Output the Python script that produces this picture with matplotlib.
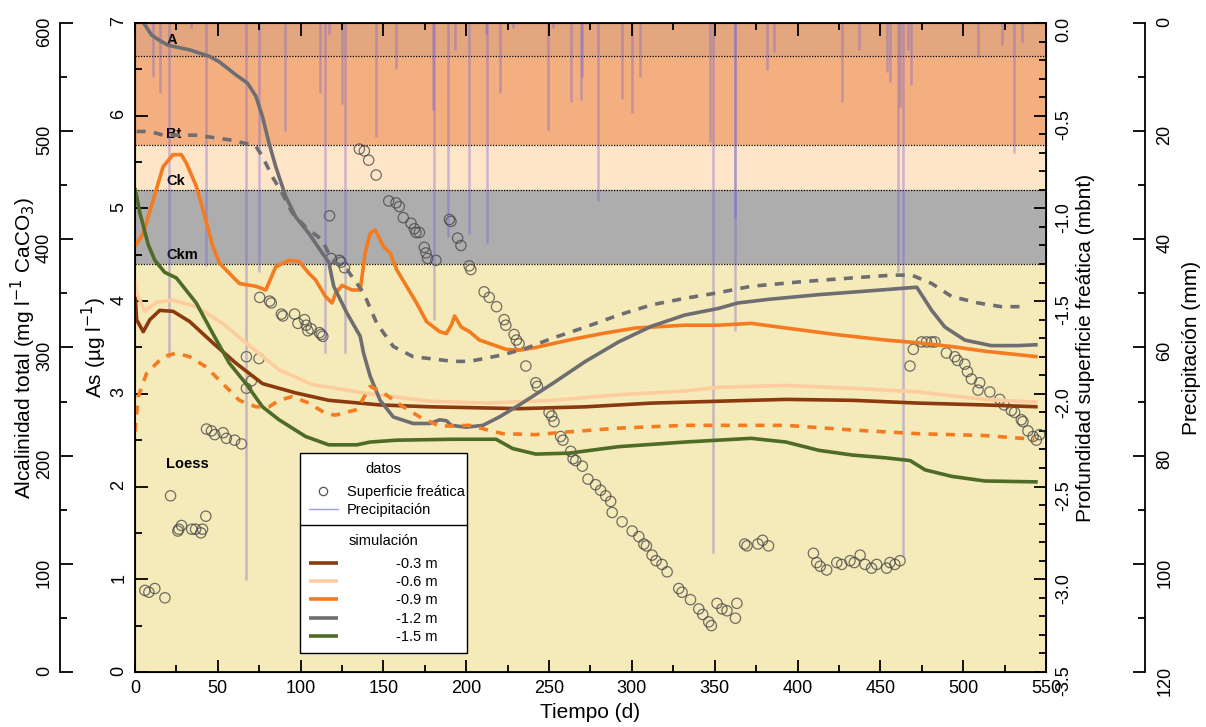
import matplotlib.pyplot as plt
from matplotlib.lines import Line2D
from matplotlib.ticker import MultipleLocator

plt.rcParams['font.family'] = ['Liberation Sans', 'DejaVu Sans']

# horizontes del suelo (profundidad en m)
layer_names = ['A', 'Bt', 'Ck', 'Ckm', 'Loess']
layer_top = [0.0, -0.18, -0.66, -0.90, -1.30]
layer_bot = [-0.18, -0.66, -0.90, -1.30, -3.5]
layer_label_depth = [-0.09, -0.60, -0.85, -1.25, -2.38]
layer_colors = ['#E3A67E', '#F3AF80', '#FEE5C8', '#ADADAD', '#F5EAB9']

# precipitacion (d, mm)
pr_day = [10.6, 15, 20.7, 34, 42.7, 67, 75, 90.4, 112, 114.5, 117, 124.8, 127,
          145.5, 157.6, 179.7, 180.5, 189, 193.4, 201.4, 211.8, 212.4, 220.5,
          228, 249.4, 252.4, 263.5, 269.5, 270.1, 279.5, 294, 300, 305, 347.4,
          349, 362, 362.5, 381.5, 386, 427, 437, 453.8, 455.8, 460.8, 461.8,
          463.8, 467, 468.5, 509, 523.7, 530.7, 535.5]
pr_mm = [10, 13, 62, 1, 45, 103, 46, 20, 13, 61, 2, 15, 61,
         21, 8.5, 16, 55, 39.5, 5, 39, 2, 40.7, 13,
         1, 19.8, 1, 14.6, 14.2, 10, 33, 14, 16.7, 10, 22,
         98, 36, 57, 8.7, 5.4, 14.6, 5, 9, 11, 46, 15.5,
         98.7, 5, 11.5, 6.3, 4, 24, 3.5]

# superficie freatica observada (d, m)
wt_day = [6.0, 8.4, 12.0, 18.1, 21.5, 25.9, 26.5, 28.1, 34.3, 36.6, 39.8, 40.8,
          42.8, 43.2, 46.2, 48.2, 53.2, 55.2, 60.2, 64.3, 67.3, 74.9, 70.3, 67.3,
          75.3, 81.3, 82.3, 88.4, 89.3, 96.4, 98.4, 102.4, 103.4, 106.4, 104.4,
          111.4, 112.5, 113.4, 117.5, 118.5, 123.5, 124.5, 126.5, 135.5, 138.5,
          141.1, 145.6, 153.2, 157.6, 159.6, 162.0, 166.7, 168.7, 169.7, 171.7,
          174.7, 175.7, 176.7, 181.7, 189.8, 190.8, 194.8, 196.8, 201.8, 202.8,
          210.8, 213.9, 218.3, 222.9, 223.9, 228.9, 230.3, 231.9, 236.0, 242.0,
          243.0, 250.0, 251.6, 253.0, 257.0, 258.4, 263.1, 264.5, 266.1, 270.1,
          273.5, 278.1, 281.1, 284.2, 287.2, 288.1, 294.1, 300.2, 304.2, 307.2,
          308.8, 312.2, 314.6, 318.2, 321.3, 328.3, 330.3, 335.4, 340.4, 342.8,
          346.4, 348.0, 351.4, 354.4, 357.4, 362.5, 363.4, 368.1, 369.5, 376.1,
          378.9, 382.5, 409.6, 411.6, 413.7, 417.6, 423.7, 426.7, 431.7, 434.3,
          437.8, 440.8, 444.7, 447.8, 453.8, 455.8, 458.8, 461.9, 467.9, 469.9,
          474.9, 477.9, 480.9, 482.9, 489.9, 495.0, 496.6, 501.0, 502.6, 505.0,
          509.0, 510.0, 516.1, 522.1, 524.7, 529.1, 531.1, 535.1, 536.1, 539.1,
          542.2, 544.2, 546.2]
wt_depth = [-3.06, -3.07, -3.05, -3.10, -2.55, -2.74, -2.73, -2.71, -2.73, -2.73, -2.75, -2.73,
            -2.66, -2.19, -2.20, -2.22, -2.21, -2.24, -2.25, -2.27, -1.80, -1.81, -1.93, -1.97,
            -1.48, -1.50, -1.51, -1.57, -1.58, -1.57, -1.62, -1.60, -1.63, -1.65, -1.66,
            -1.67, -1.68, -1.69, -1.04, -1.27, -1.28, -1.29, -1.32, -0.68, -0.69,
            -0.74, -0.82, -0.96, -0.97, -0.99, -1.05, -1.08, -1.11, -1.13, -1.13,
            -1.21, -1.24, -1.27, -1.28, -1.06, -1.07, -1.16, -1.20, -1.31, -1.33,
            -1.45, -1.48, -1.53, -1.60, -1.63, -1.68, -1.71, -1.73, -1.85, -1.94,
            -1.96, -2.10, -2.12, -2.15, -2.23, -2.25, -2.31, -2.35, -2.36, -2.39,
            -2.46, -2.49, -2.52, -2.55, -2.58, -2.64, -2.69, -2.74, -2.77, -2.81,
            -2.82, -2.87, -2.90, -2.92, -2.96, -3.05, -3.07, -3.11, -3.16, -3.19,
            -3.23, -3.25, -3.13, -3.16, -3.17, -3.21, -3.13, -2.81, -2.82, -2.81,
            -2.79, -2.82, -2.86, -2.91, -2.93, -2.95, -2.91, -2.92, -2.90, -2.91,
            -2.87, -2.92, -2.94, -2.92, -2.94, -2.91, -2.92, -2.90, -1.85, -1.76,
            -1.72, -1.72, -1.72, -1.72, -1.78, -1.80, -1.82, -1.84, -1.88, -1.92,
            -1.98, -1.94, -1.99, -2.03, -2.06, -2.09, -2.10, -2.14, -2.15, -2.20,
            -2.23, -2.25, -2.22]

# simulacion (As, ug/l)
t_03 = [0, 1, 5, 9, 15, 23, 33, 47, 61, 77, 97, 117, 148, 178, 232, 272, 312,
        352, 393, 433, 473, 513, 545]
as_03 = [4.12, 3.80, 3.67, 3.80, 3.90, 3.89, 3.78, 3.55, 3.33, 3.11, 3.01, 2.93,
         2.88, 2.86, 2.84, 2.86, 2.90, 2.92, 2.94, 2.93, 2.90, 2.88, 2.86]

t_06 = [0, 1, 6, 13, 23, 37, 53, 67, 87, 107, 138, 178, 212, 252, 292, 332, 352,
        393, 433, 473, 513, 545]
as_06 = [4.23, 4.09, 3.89, 3.99, 4.01, 3.94, 3.76, 3.55, 3.26, 3.10, 3.01, 2.92,
         2.90, 2.93, 2.99, 3.03, 3.07, 3.09, 3.06, 3.02, 2.94, 2.91]

t_09 = [0, 5, 11, 17, 23, 28, 31, 37, 41, 47, 51, 57, 63, 73, 79, 85, 93, 99,
        105, 109, 115, 119, 121, 125, 131, 136, 139, 142, 145, 150, 154, 158,
        164, 170, 176, 184, 188, 191, 193, 197, 202, 208, 216, 224, 232, 242,
        262, 282, 302, 332, 352, 372, 393, 423, 453, 473, 493, 513, 545]
as_09 = [4.59, 4.73, 5.09, 5.45, 5.58, 5.58, 5.49, 5.24, 4.99, 4.59, 4.41, 4.30,
         4.19, 4.16, 4.12, 4.37, 4.44, 4.43, 4.30, 4.23, 4.05, 3.98, 4.08, 4.17,
         4.12, 4.12, 4.52, 4.73, 4.77, 4.59, 4.52, 4.34, 4.16, 3.98, 3.78, 3.67,
         3.65, 3.74, 3.84, 3.72, 3.67, 3.58, 3.53, 3.48, 3.47, 3.50, 3.58, 3.65,
         3.71, 3.74, 3.74, 3.76, 3.71, 3.64, 3.58, 3.55, 3.51, 3.46, 3.40]

t_12 = [3, 6, 10, 15, 20, 33, 45, 51, 61, 68, 73, 77, 81, 85, 91, 97, 105, 113,
        117, 120, 128, 136, 138, 142, 148, 156, 168, 178, 184, 188, 191, 200,
        210, 220, 232, 252, 272, 292, 312, 332, 352, 364, 383, 413, 443, 472,
        481, 489, 501, 517, 533, 545]
as_12 = [7.05, 6.98, 6.87, 6.81, 6.76, 6.71, 6.64, 6.58, 6.44, 6.35, 6.21, 5.99,
         5.70, 5.45, 5.13, 4.91, 4.73, 4.52, 4.42, 4.16, 3.87, 3.62, 3.44, 3.19,
         2.93, 2.75, 2.68, 2.68, 2.72, 2.71, 2.66, 2.64, 2.66, 2.75, 2.88, 3.11,
         3.35, 3.56, 3.73, 3.85, 3.92, 3.98, 4.02, 4.07, 4.11, 4.15, 3.90, 3.72,
         3.58, 3.52, 3.52, 3.53]

t_15 = [0, 3, 8, 12, 18, 25, 37, 47, 57, 67, 77, 87, 103, 117, 134, 142, 158,
        192, 218, 228, 242, 262, 292, 332, 372, 393, 413, 433, 453, 468, 477,
        493, 513, 545]
as_15 = [5.22, 4.95, 4.61, 4.44, 4.31, 4.25, 3.98, 3.65, 3.33, 3.11, 2.86, 2.72,
         2.54, 2.45, 2.45, 2.48, 2.50, 2.51, 2.51, 2.41, 2.35, 2.36, 2.43, 2.48,
         2.52, 2.48, 2.39, 2.34, 2.31, 2.28, 2.18, 2.11, 2.06, 2.05]

# curvas punteadas
t_12d = [1, 9, 17, 37, 57, 67, 73, 77, 83, 89, 95, 103, 113, 119, 128, 138, 146,
         156, 168, 178, 192, 202, 222, 236, 252, 272, 292, 312, 332, 352, 372,
         403, 433, 457, 469, 481, 493, 509, 523, 539]
v_12d = [5.83, 5.83, 5.79, 5.79, 5.74, 5.70, 5.67, 5.56, 5.34, 5.16, 4.95, 4.80,
         4.66, 4.44, 4.34, 4.09, 3.76, 3.51, 3.40, 3.38, 3.35, 3.35, 3.42, 3.49,
         3.60, 3.72, 3.85, 3.96, 4.03, 4.09, 4.16, 4.21, 4.25, 4.28, 4.28, 4.19,
         4.05, 3.98, 3.94, 3.94]

t_09d = [0, 2, 7, 17, 25, 33, 43, 53, 63, 73, 81, 87, 95, 105, 115, 121, 134,
         142, 150, 162, 172, 184, 202, 222, 242, 262, 292, 332, 393, 433, 473,
         513, 543]
v_09d = [2.59, 2.97, 3.22, 3.40, 3.44, 3.40, 3.29, 3.11, 2.93, 2.86, 2.86, 2.93,
         2.97, 2.90, 2.79, 2.77, 2.83, 3.08, 3.01, 2.86, 2.75, 2.65, 2.66, 2.57,
         2.56, 2.59, 2.63, 2.66, 2.66, 2.61, 2.57, 2.55, 2.51]

sim_labels = ['-0.3 m', '-0.6 m', '-0.9 m', '-1.2 m', '-1.5 m']
sim_colors = ['#8B3A0F', '#FFCC9E', '#F47B20', '#6E6E72', '#4F6B28']

fig = plt.figure(figsize=(12.06, 7.27), dpi=100)
ax = fig.add_axes([0.1119, 0.0757, 0.7554, 0.8927])
ax_d = ax.twinx()
ax_p = ax.twinx()
ax_alk = ax.twinx()

ax_alk.set_zorder(0)
ax_d.set_zorder(1)
ax_p.set_zorder(2)
ax.set_zorder(3)
ax.patch.set_visible(False)
ax_p.patch.set_visible(False)
ax_alk.patch.set_visible(False)

# capas de suelo
for name, top, bot, lab, col in zip(layer_names, layer_top, layer_bot,
                                    layer_label_depth, layer_colors):
    ax_d.axhspan(bot, top, color=col, zorder=0, lw=0)
    if bot > -3.5:
        ax_d.axhline(bot, color='black', ls=(0, (1, 1.2)), lw=0.9, zorder=1)
    ax_d.text(19, lab, name, fontsize=10.5, fontweight='bold', va='center',
              ha='left', zorder=2)

wt = ax_d.scatter(wt_day, wt_depth, s=55, facecolors='none', edgecolors='#444444',
                  linewidths=0.9, alpha=0.75, zorder=3)
ax_d.set_ylim(-3.5, 0)

ax_p.vlines(pr_day, 0, pr_mm, color='#6A5AD8', alpha=0.35, lw=1.8)
ax_p.set_ylim(120, 0)

# simulacion
lw = 2.6
series = [(t_03, as_03), (t_06, as_06), (t_09, as_09), (t_12, as_12), (t_15, as_15)]
sim_handles = []
for (t, v), c, lab in zip(series, sim_colors, sim_labels):
    h, = ax.plot(t, v, color=c, lw=lw, label=lab, solid_capstyle='butt')
    sim_handles.append(h)
ax.plot(t_12d, v_12d, color=sim_colors[3], lw=lw, ls=(0, (2.5, 2.3)))
ax.plot(t_09d, v_09d, color=sim_colors[2], lw=lw, ls=(0, (2.5, 2.3)))

ax.set_xlim(0, 550)
ax.set_ylim(0, 7)
ax_alk.set_ylim(0, 600)

tick_fs = 13
ax.xaxis.set_major_locator(MultipleLocator(50))
ax.xaxis.set_minor_locator(MultipleLocator(25))
ax.yaxis.set_major_locator(MultipleLocator(1))
ax.yaxis.set_minor_locator(MultipleLocator(0.5))
ax.tick_params(which='both', direction='in', width=1.3, labelsize=tick_fs,
               top=True, right=False)
ax.tick_params(which='major', length=9)
ax.tick_params(which='minor', length=5)
ax.tick_params(axis='y', labelrotation=90, pad=5.5)
ax.tick_params(axis='x', pad=6)
for s in ax.spines.values():
    s.set_linewidth(1.3)

# profundidad (derecha)
ax_d.yaxis.set_major_locator(MultipleLocator(0.5))
ax_d.yaxis.set_minor_locator(MultipleLocator(0.1))
ax_d.yaxis.set_major_formatter(lambda v, p: f'{v:.1f}')
ax_d.tick_params(axis='y', which='both', direction='in', width=1.3,
                 labelsize=tick_fs, labelrotation=90, pad=6.5)
ax_d.tick_params(axis='y', which='major', length=9)
ax_d.tick_params(axis='y', which='minor', length=5)

# precipitacion
ax_p.spines['right'].set_position(('outward', 71))
for k in ['left', 'top', 'bottom']:
    ax_p.spines[k].set_visible(False)
ax_p.spines['right'].set_linewidth(1.3)
ax_p.yaxis.set_major_locator(MultipleLocator(20))
ax_p.yaxis.set_minor_locator(MultipleLocator(10))
ax_p.tick_params(axis='y', which='both', direction='in', width=1.3,
                 labelsize=tick_fs, labelrotation=90, pad=8.4)
ax_p.tick_params(axis='y', which='major', length=9)
ax_p.tick_params(axis='y', which='minor', length=5)

# alcalinidad
ax_alk.yaxis.set_label_position('left')
ax_alk.yaxis.set_ticks_position('left')
ax_alk.spines['left'].set_position(('outward', 54))
ax_alk.spines['left'].set_visible(True)
for k in ['right', 'top', 'bottom']:
    ax_alk.spines[k].set_visible(False)
ax_alk.spines['left'].set_linewidth(1.3)
ax_alk.yaxis.set_major_locator(MultipleLocator(100))
ax_alk.yaxis.set_minor_locator(MultipleLocator(50))
ax_alk.tick_params(axis='y', which='both', direction='in', width=1.3,
                   labelsize=tick_fs, labelrotation=90, pad=5)
ax_alk.tick_params(axis='y', which='major', length=9)
ax_alk.tick_params(axis='y', which='minor', length=5)

for a in [ax_d, ax_p, ax_alk]:
    a.tick_params(axis='x', which='both', bottom=False, top=False,
                  labelbottom=False)

lab_fs = 15
ax.set_xlabel('Tiempo (d)', fontsize=lab_fs, labelpad=4)
ax.set_ylabel('As (µg l$^{-1}$)', fontsize=lab_fs)
ax_alk.set_ylabel('Alcalinidad total (mg l$^{-1}$ CaCO$_3$)', fontsize=lab_fs)
ax_d.set_ylabel('Profundidad superficie freática (mbnt)', fontsize=lab_fs)
ax_p.set_ylabel('Precipitación (mm)', fontsize=lab_fs)
ax.yaxis.set_label_coords(-0.0285, 0.5)
ax_alk.yaxis.set_label_coords(-0.1065, 0.5)
ax_d.yaxis.set_label_coords(1.0329, 0.5)
ax_p.yaxis.set_label_coords(1.1493, 0.5)

# leyendas
pr_handle = Line2D([], [], color='#9A9AF0', lw=1)
wt_handle = Line2D([], [], ls='none', marker='o', ms=6, mfc='none',
                   mec='#555555', mew=0.9)
leg1 = ax.legend([wt_handle, pr_handle], ['Superficie freática', 'Precipitación'],
                 title='datos', loc='upper left',
                 bbox_to_anchor=(0.1811, 0.3374 - 0.111, 0.1833, 0.111),
                 mode='expand', fontsize=10.5, title_fontsize=10.5,
                 frameon=True, fancybox=False, framealpha=1, edgecolor='black',
                 borderaxespad=0, handlelength=2.0, handletextpad=0.6,
                 labelspacing=0.3, borderpad=0.6)
leg1.get_frame().set_linewidth(1.0)
leg1._legend_box.sep = 6.5
ax.add_artist(leg1)
leg2 = ax.legend(sim_handles, sim_labels, title='simulación', loc='upper left',
                 bbox_to_anchor=(0.1811, 0.2265 - 0.2, 0.1833, 0.2),
                 mode='expand', fontsize=10.5, title_fontsize=10.5,
                 frameon=True, fancybox=False, framealpha=1, edgecolor='black',
                 borderaxespad=0, handlelength=2.0, handletextpad=4.0,
                 labelspacing=0.3, borderpad=0.6)
leg2.get_frame().set_linewidth(1.0)
leg2._legend_box.sep = 6.5

fig.savefig('out.png', dpi=100)
